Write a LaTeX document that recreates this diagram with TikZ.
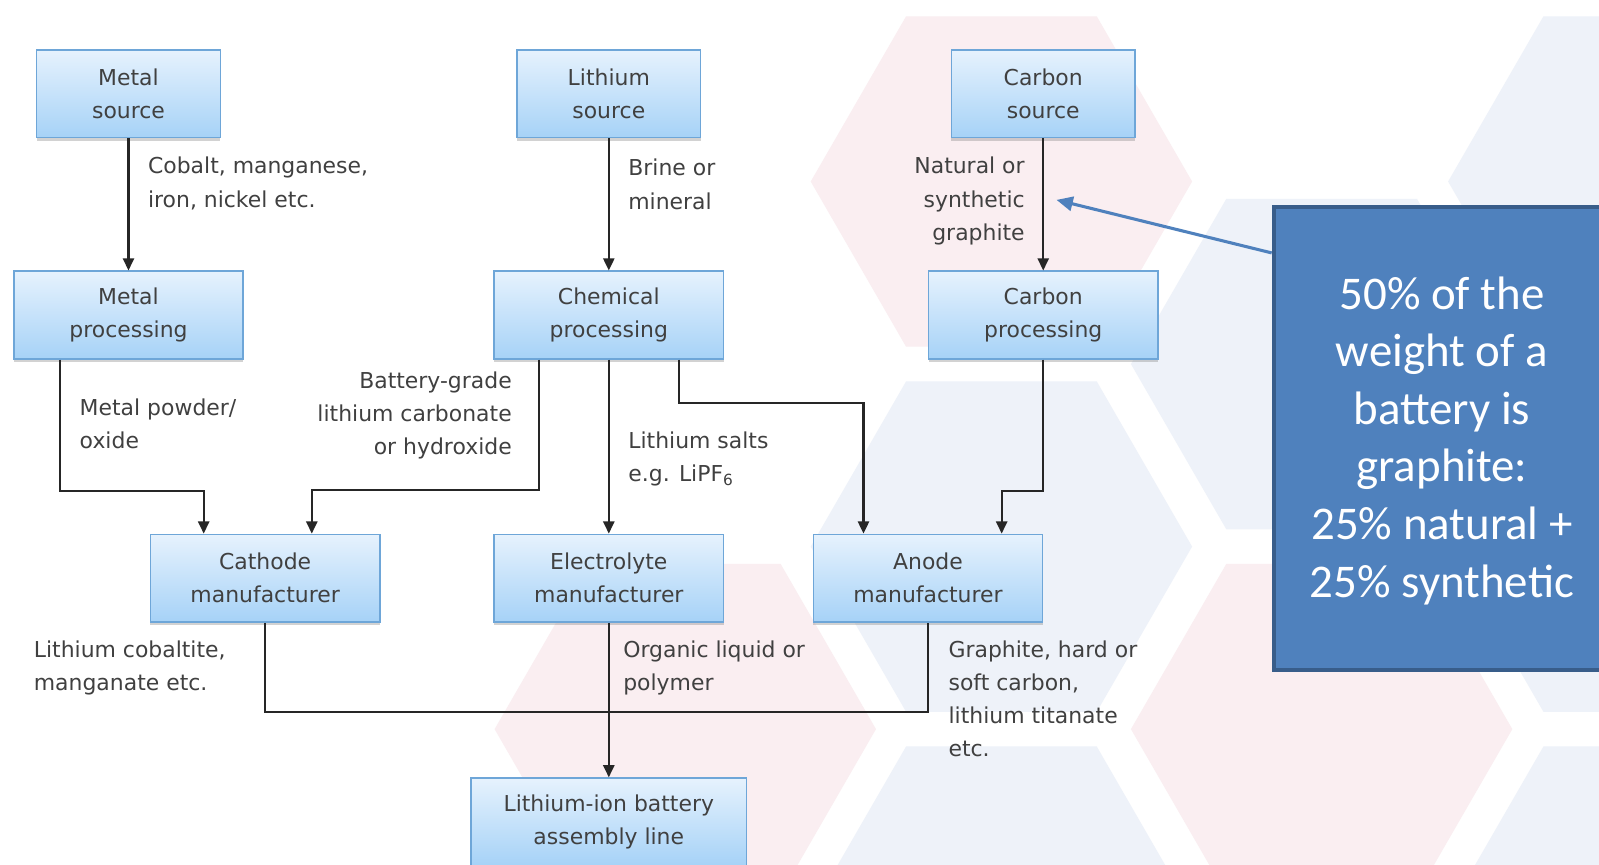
\documentclass[tikz,border=0pt]{standalone}
\usepackage{fontspec}
\setmainfont{DejaVu Sans}
\newfontfamily\notefont{Carlito}
\usetikzlibrary{arrows.meta,shadows}

\definecolor{boxtop}{RGB}{230,242,253}
\definecolor{boxbot}{RGB}{166,210,247}
\definecolor{boxedge}{RGB}{110,166,216}
\definecolor{txtgray}{RGB}{64,64,64}
\definecolor{hexpink}{RGB}{250,238,241}
\definecolor{hexblue}{RGB}{238,242,249}
\definecolor{notefill}{RGB}{79,129,189}
\definecolor{noteedge}{RGB}{56,93,138}

\begin{document}
\begin{tikzpicture}[x=1pt, y=-1pt,
    stage/.style ={rectangle, draw=boxedge, line width=1.5pt, top color=boxtop, bottom color=boxbot,
      text=txtgray, minimum height=86pt, minimum width=225pt, align=center,
      font=\fontsize{21.5}{32.5}\selectfont,
      drop shadow={shadow xshift=0pt, shadow yshift=-3pt, opacity=0.35}},
    remark/.style ={text=txtgray, inner sep=0pt, font=\fontsize{21.5}{32.5}\selectfont},
    wire/.style ={line width=2pt, draw=black!85},
    flow/.style ={wire, -{Triangle[length=12pt,width=11pt]}}]
   \path[use as bounding box, clip] (0,0) rectangle (1568,848);
   \fill[white] (0,0) rectangle (1568,848);

   % background hexagons
   \foreach \hx/\hy/\hc in {982/178/hexpink, 982/536/hexblue, 982/894/hexblue,
       1296/357/hexblue, 1296/715/hexpink, 672/715/hexpink,
       1607/178/hexblue, 1607/536/hexblue, 1607/894/hexblue}
     \fill[\hc] (\hx+187,\hy) -- (\hx+93.5,\hy+162) -- (\hx-93.5,\hy+162)
       -- (\hx-187,\hy) -- (\hx-93.5,\hy-162) -- (\hx+93.5,\hy-162) -- cycle;

   \node[stage, minimum width=180pt] (msrc) at (126,92) {Metal\\source};
   \node[stage, minimum width=180pt] (lsrc) at (597,92) {Lithium\\source};
   \node[stage, minimum width=180pt] (csrc) at (1023,92) {Carbon\\source};
   \node[stage] (mproc) at (126,309) {Metal\\processing};
   \node[stage] (chem)  at (597,309) {Chemical\\processing};
   \node[stage] (cproc) at (1023,309) {Carbon\\processing};
   \node[stage] (cath)  at (260,567) {Cathode\\manufacturer};
   \node[stage] (elec)  at (597,567) {Electrolyte\\manufacturer};
   \node[stage] (anode) at (910,567) {Anode\\manufacturer};
   \node[stage, minimum width=270pt] (cell) at (597,806) {Lithium-ion battery\\assembly line};

   \node[remark, anchor=north west, align=left]  (mlbl) at (145,154) {Cobalt, manganese,\\iron, nickel etc.};
   \node[remark, anchor=north west, align=left]  (llbl) at (616,156) {Brine or\\mineral};
   \node[remark, anchor=north east, align=right] (clbl) at (1005,154) {Natural or\\synthetic\\graphite};
   \node[remark, anchor=north west, align=left]  (plbl) at (78,391) {Metal powder/\\oxide};
   \node[remark, anchor=north east, align=right] (glbl) at (502,364) {Battery-grade\\lithium carbonate\\or hydroxide};
   \node[remark, anchor=north west, align=left]  (slbl) at (616,423) {Lithium salts\\e.g. LiPF\textsubscript{6}};
   \node[remark, anchor=north west, align=left]  (tlbl) at (33,628) {Lithium cobaltite,\\manganate etc.};
   \node[remark, anchor=north west, align=left]  (olbl) at (611,628) {Organic liquid or\\polymer};
   \node[remark, anchor=north west, align=left]  (albl) at (930,628) {Graphite, hard or\\soft carbon,\\lithium titanate\\etc.};

   \draw[flow] (msrc) -- (mproc);
   \draw[flow] (lsrc) -- (chem);
   \draw[flow] (csrc) -- (cproc);
   \draw[flow] ([xshift=46pt]mproc.south west) -- ++(0,129) -| ([xshift=53pt]cath.north west);
   \draw[flow] ([xshift=45pt]chem.south west) -- ++(0,128) -| ([xshift=159pt]cath.north west);
   \draw[flow] (chem) -- (elec);
   \draw[flow] ([xshift=182pt]chem.south west) -- ++(0,42) -| ([xshift=50pt]anode.north west);
   \draw[flow] (cproc.south) -- ++(0,129) -| ([xshift=-41pt]anode.north east);
   \draw[wire] (cath.south) -- ++(0,87) -| (anode.south);
   \draw[flow] (elec) -- (cell);

   \node[draw=noteedge, fill=notefill, line width=4pt, minimum width=330pt, minimum height=454pt,
     text=white, align=center, font=\notefont\fontsize{46}{56.5}\selectfont] (note) at (1414,430)
     {\rule{0pt}{36pt}50\% of the\\weight of a\\battery is\\graphite:\\25\% natural +\\25\% synthetic};
   \coordinate (tip) at (1036,196);
   \draw[line width=3pt, draw=notefill, -{Triangle[length=16pt,width=14pt]}] ([yshift=182pt]note.west) -- (tip);
 \end{tikzpicture}
\end{document}
